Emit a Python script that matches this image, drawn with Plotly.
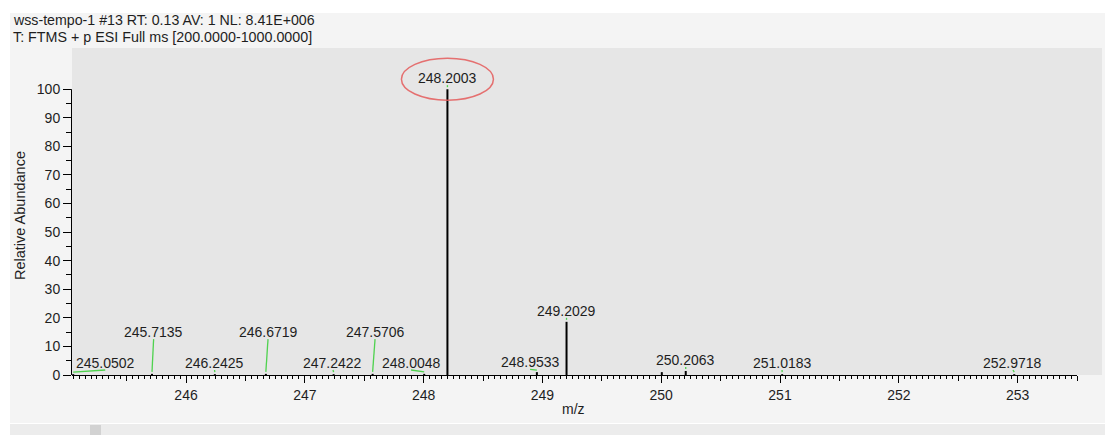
import plotly.graph_objects as go

# ---- spectrum header -------------------------------------------------------
scan_header = "wss-tempo-1 #13 RT: 0.13 AV: 1 NL: 8.41E+006"
filter_line = "T: FTMS + p ESI Full ms [200.0000-1000.0000]"
x_title = "m/z"
y_title = "Relative Abundance"

# ---- centroided peaks -------------------------------------------------------
peak_mz = [245.0502, 245.7135, 246.2425, 246.6719, 247.2422, 247.5706, 248.0048,
           248.2003, 248.9533, 249.2029, 250.0050, 250.2063, 251.0183, 252.9718]
peak_abundance = [0.3, 0.4, 0.3, 0.4, 0.3, 0.4, 0.4,
                  100.0, 1.0, 18.6, 1.0, 1.4, 0.3, 0.3]
peak_labelled = [True, True, True, True, True, True, True,
                 True, True, True, False, True, True, True]
base_peak_mz = 248.2003

# label anchor (m/z, abundance) for labels moved off their peak; None = right above the peak
label_x = [245.32, 245.727, 246.24, 246.69, 247.237, 247.591, 247.894,
           None, 248.896, None, None, None, 251.017, 252.961]
label_y = [4.2, 15.0, 4.2, 15.0, 4.2, 15.0, 4.2,
           None, 4.4, None, None, None, 4.2, 4.2]

# ---- axes -------------------------------------------------------------------
x_range = [245.04, 253.5]
y_range = [0, 114.4]
x_major_ticks = [246, 247, 248, 249, 250, 251, 252, 253]
x_half_ticks = [245.5, 246.5, 247.5, 248.5, 249.5, 250.5, 251.5, 252.5, 253.5]
y_major_ticks = [0, 10, 20, 30, 40, 50, 60, 70, 80, 90, 100]
y_minor_ticks = [5, 15, 25, 35, 45, 55, 65, 75, 85, 95]

# ---- geometry ---------------------------------------------------------------
W, H = 1105, 435
ML, MR, MT, MB = 72, 28, 48, 60
PW, PH = W - ML - MR, H - MT - MB
Y_PX = PH / (y_range[1] - y_range[0])   # pixels per abundance unit


def px(x):
    return (x - ML) / PW


def py(y):
    return (H - MB - y) / PH


FONT = "Liberation Sans, Arial, sans-serif"
TEXT = "#1e1e1e"
GREEN = "#4fd24f"

fig = go.Figure()

# stick spectrum
sx, sy = [], []
for m, a in zip(peak_mz, peak_abundance):
    sx += [m, m, None]
    sy += [0, a, None]
fig.add_trace(go.Scatter(x=sx, y=sy, mode="lines", line=dict(color="#000000", width=2),
                         hoverinfo="skip", showlegend=False))

# label connectors and labels
cx, cy = [], []
annotations = []
LABEL_SHIFT = 11  # px between peak top and label centre
for m, a, lab, lx, ly in zip(peak_mz, peak_abundance, peak_labelled, label_x, label_y):
    if not lab:
        continue
    text = f"{m:.4f}"
    if lx is None:
        annotations.append(dict(x=m, y=a, xref="x", yref="y", text=text, showarrow=False,
                                xanchor="center", yanchor="middle", yshift=LABEL_SHIFT,
                                font=dict(family=FONT, size=14, color=TEXT)))
        top = a + (LABEL_SHIFT - 7) / Y_PX
        cx += [m, m, None]
    else:
        annotations.append(dict(x=lx, y=ly, xref="x", yref="y", text=text, showarrow=False,
                                xanchor="center", yanchor="middle",
                                font=dict(family=FONT, size=14, color=TEXT)))
        top = ly - 7 / Y_PX
        cx += [lx, m, None]
    cy += [top, a + 0.7, None]
fig.add_trace(go.Scatter(x=cx, y=cy, mode="lines", line=dict(color=GREEN, width=1.3),
                         hoverinfo="skip", showlegend=False))

# empty trace so the half-unit tick axis is drawn
fig.add_trace(go.Scatter(x=[], y=[], xaxis="x2", yaxis="y", showlegend=False))

# header and axis titles
annotations += [
    dict(x=px(11), y=py(20), xref="paper", yref="paper", text=scan_header, showarrow=False,
         xanchor="left", yanchor="middle", font=dict(family=FONT, size=14.2, color=TEXT)),
    dict(x=px(11), y=py(37), xref="paper", yref="paper", text=filter_line, showarrow=False,
         xanchor="left", yanchor="middle", font=dict(family=FONT, size=14.3, color=TEXT)),
    dict(x=px(573), y=py(409), xref="paper", yref="paper", text=x_title, showarrow=False,
         xanchor="center", yanchor="middle", font=dict(family=FONT, size=14, color=TEXT)),
    dict(x=px(20), y=py(216), xref="paper", yref="paper", text=y_title, showarrow=False,
         textangle=-90, xanchor="center", yanchor="middle",
         font=dict(family=FONT, size=14.5, color=TEXT)),
]

shapes = [
    # window panel
    dict(type="rect", xref="paper", yref="paper", x0=px(10), x1=px(1105), y0=py(423), y1=py(13),
         fillcolor="#f4f4f4", line=dict(width=0), layer="below"),
    # plot area
    dict(type="rect", xref="paper", yref="paper", x0=px(72), x1=px(1102), y0=py(375), y1=py(48),
         fillcolor="#e6e6e6", line=dict(width=0), layer="below"),
    # scroll strip
    dict(type="rect", xref="paper", yref="paper", x0=px(10), x1=px(1105), y0=py(435), y1=py(424),
         fillcolor="#ececec", line=dict(width=0), layer="below"),
    dict(type="rect", xref="paper", yref="paper", x0=px(90), x1=px(101), y0=py(435), y1=py(425),
         fillcolor="#d2d2d2", line=dict(width=0), layer="below"),
    # vertical axis line, 0-100
    dict(type="line", xref="paper", yref="y", x0=px(71.5), x1=px(71.5), y0=0, y1=100,
         line=dict(color="#000000", width=1)),
    # ring around base peak label
    dict(type="circle", xref="x", yref="y", xsizemode="pixel", ysizemode="pixel",
         xanchor=base_peak_mz, yanchor=100, x0=-46, x1=46, y0=-11, y1=31,
         line=dict(color="rgba(228,90,90,0.85)", width=1.5)),
]

fig.update_layout(
    width=W, height=H, autosize=False,
    margin=dict(l=ML, r=MR, t=MT, b=MB, pad=0),
    paper_bgcolor="#ffffff", plot_bgcolor="rgba(0,0,0,0)",
    font=dict(family=FONT, size=14, color=TEXT),
    showlegend=False,
    annotations=annotations,
    shapes=shapes,
    xaxis=dict(range=x_range, showgrid=False, zeroline=False,
               showline=True, linecolor="#000000", linewidth=1,
               tickmode="array", tickvals=x_major_ticks,
               ticks="outside", ticklen=7, tickwidth=1, tickcolor="#000000",
               tickfont=dict(family=FONT, size=14, color=TEXT),
               minor=dict(ticks="outside", ticklen=3, tickwidth=1, tickcolor="#000000",
                          tickmode="linear", tick0=245.0, dtick=0.05, showgrid=False)),
    xaxis2=dict(range=x_range, overlaying="x", anchor="y", side="bottom",
                showgrid=False, zeroline=False, showline=False, showticklabels=False,
                tickmode="array", tickvals=x_half_ticks,
                ticks="outside", ticklen=5, tickwidth=1, tickcolor="#000000"),
    yaxis=dict(range=y_range, showgrid=False, zeroline=False, showline=False,
               tickmode="array", tickvals=y_major_ticks,
               ticks="outside", ticklen=8, tickwidth=1, tickcolor="#000000",
               tickfont=dict(family=FONT, size=14, color=TEXT),
               minor=dict(ticks="outside", ticklen=5, tickwidth=1, tickcolor="#000000",
                          tickmode="array", tickvals=y_minor_ticks, showgrid=False)),
)

fig.write_html("out.html")
